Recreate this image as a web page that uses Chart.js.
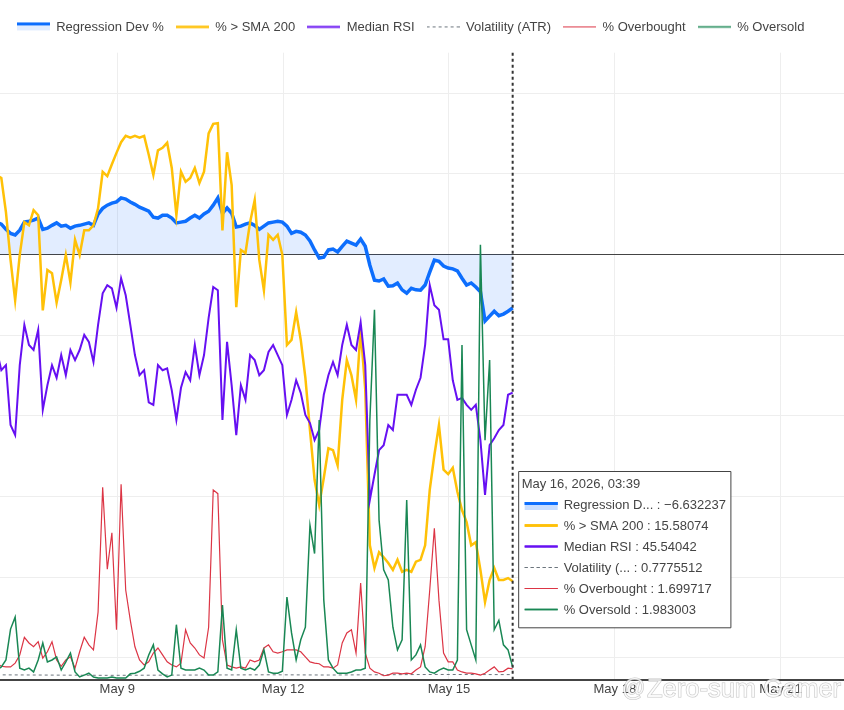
<!DOCTYPE html>
<html>
<head>
<meta charset="utf-8">
<script src="https://cdn.jsdelivr.net/npm/chart.js@4.4.1/dist/chart.umd.min.js"></script>
<style>
  html, body { margin: 0; padding: 0; background: #fff; }
</style>
</head>
<body>
<canvas id="chart" width="844" height="710"></canvas>
<script>
// 2-hourly samples, last one is May 16, 2026 03:39
const regDev = [
  4.0, 3.75, 3.1, 2.6, 2.4, 3.0, 4.0, 4.1, 4.25, 4.5, 3.1, 3.25,
  3.6, 3.9, 3.5, 3.6, 3.25, 3.5, 3.6, 3.75, 3.9, 3.6, 5.0, 5.7,
  6.1, 6.35, 6.5, 7.0, 6.85, 6.5, 6.2, 5.85, 5.6, 5.35, 4.6, 4.5,
  4.85, 4.85, 4.5, 3.9, 4.0, 4.1, 4.5, 4.85, 4.5, 5.0, 5.35, 6.1,
  7.0, 5.1, 5.75, 5.1, 3.4, 3.5, 3.75, 3.9, 3.6, 3.1, 3.5, 3.9,
  4.0, 4.1, 4.0, 3.5, 2.6, 2.85, 2.75, 2.4, 1.65, 0.55, -0.45, -0.35,
  0.55, 0.65, 0.3, 1.0, 1.65, 1.4, 1.15, 1.9, 1.0, -1.35, -3.2, -3.3,
  -3.05, -3.95, -3.9, -3.55, -4.4, -4.8, -4.2, -4.4, -4.45, -3.8, -2.2, -0.7,
  -0.85, -1.45, -1.7, -1.8, -2.05, -2.95, -3.8, -3.55, -4.05, -4.65, -8.25, -7.65,
  -7.05, -7.6, -7.4, -7.05, -6.632237
];
const aboveSma = [
  80.1, 79.6, 74.2, 66.6, 60.2, 67.4, 72.6, 72.1, 74.5, 73.7, 58.6, 65.0,
  64.5, 59.8, 63.4, 67.4, 63.0, 69.8, 67.4, 71.3, 71.3, 72.1, 74.8, 80.6,
  79.9, 81.8, 83.6, 85.3, 86.3, 86.0, 86.3, 86.0, 86.3, 83.3, 80.1, 84.0,
  84.4, 85.2, 81.2, 73.7, 80.6, 79.0, 79.6, 81.2, 78.8, 80.6, 86.7, 88.2,
  88.3, 71.3, 83.7, 78.5, 59.1, 68.2, 67.7, 72.6, 76.1, 66.6, 61.8, 70.6,
  69.8, 70.6, 67.4, 53.1, 53.9, 58.3, 53.9, 47.9, 39.6, 31.7, 27.7, 32.0,
  36.7, 36.4, 34.0, 44.4, 50.7, 48.3, 44.4, 55.5, 46.0, 21.3, 17.7, 20.2,
  19.4, 18.5, 17.4, 19.0, 17.1, 17.4, 17.1, 18.7, 19.0, 21.3, 30.1, 35.6,
  40.4, 33.3, 32.6, 33.6, 29.8, 26.9, 25.0, 21.3, 21.8, 17.4, 12.3, 15.8,
  17.7, 15.8, 15.8, 16.1, 15.58074
];
const medianRsi = [
  52.3, 49.1, 49.9, 40.4, 38.8, 49.9, 56.3, 53.1, 52.3, 55.5, 42.8, 46.7,
  49.9, 47.9, 51.5, 48.3, 52.3, 50.7, 52.3, 54.7, 53.6, 50.4, 56.3, 61.3,
  62.6, 62.1, 59.0, 63.7, 61.0, 56.3, 51.5, 48.3, 49.1, 44.0, 43.6, 49.9,
  49.1, 49.4, 45.9, 41.2, 46.3, 48.8, 47.5, 53.1, 48.3, 51.5, 57.4, 62.3,
  61.8, 41.2, 53.6, 46.7, 38.8, 46.7, 44.4, 51.5, 50.7, 48.3, 49.1, 52.0,
  53.1, 51.5, 49.9, 42.0, 44.4, 47.5, 45.5, 42.0, 40.7, 38.0, 39.6, 45.2,
  48.3, 50.4, 48.3, 53.1, 56.3, 53.1, 52.3, 56.7, 49.9, 28.5, 32.5, 36.4,
  37.2, 40.4, 39.6, 45.2, 45.2, 45.2, 43.6, 46.0, 47.9, 53.1, 62.6, 59.4,
  58.7, 54.0, 54.0, 47.5, 44.4, 44.7, 43.6, 42.8, 43.6, 38.0, 29.3, 37.2,
  38.3, 39.6, 40.4, 45.2, 45.54042
];
const overbought = [
  2.6, 2.1, 2.0, 2.0, 2.6, 3.9, 6.7, 5.8, 5.2, 6.0, 3.4, 4.4,
  6.0, 3.1, 2.1, 3.1, 3.6, 1.8, 4.4, 6.7, 5.5, 4.7, 10.7, 30.5,
  17.5, 23.3, 7.9, 31.0, 14.2, 9.4, 5.2, 3.1, 2.3, 2.8, 4.2, 5.0,
  3.9, 2.8, 2.3, 2.0, 2.6, 7.9, 5.8, 5.0, 3.9, 3.4, 8.3, 30.1,
  29.5, 6.3, 2.3, 2.0, 1.8, 2.0, 1.8, 3.1, 2.8, 3.1, 5.0, 5.5,
  4.4, 4.2, 4.4, 4.7, 4.7, 4.7, 4.4, 3.6, 2.8, 2.6, 2.5, 2.0,
  2.0, 1.8, 2.3, 5.8, 7.4, 7.9, 4.2, 15.3, 4.2, 1.8, 1.2, 1.0,
  0.6, 0.7, 1.0, 1.0, 0.9, 1.0, 0.9, 1.5, 2.0, 5.2, 14.2, 24.0,
  12.6, 4.2, 2.8, 2.8, 1.5, 1.2, 1.0, 1.0, 0.9, 0.7, 1.0, 1.5,
  2.0, 1.2, 1.3, 1.8, 1.699717
];
const oversold = [
  1.5, 2.0, 3.1, 8.0, 9.9, 1.8, 1.5, 1.8, 1.2, 3.1, 5.8, 2.8,
  3.1, 3.6, 1.5, 2.8, 4.2, 1.2, 0.4, 0.7, 1.0, 0.4, 0.24, 0.24,
  0.24, 0.4, 0.24, 0.24, 0.24, 0.9, 1.0, 1.3, 1.8, 3.9, 5.5, 1.5,
  0.9, 0.4, 0.7, 8.7, 1.8, 1.5, 1.5, 1.5, 1.8, 1.5, 0.7, 0.7,
  1.2, 11.8, 1.8, 1.5, 7.9, 1.8, 1.5, 1.8, 1.5, 2.3, 4.7, 1.2,
  1.0, 1.0, 1.3, 13.1, 7.4, 3.1, 6.3, 8.3, 24.5, 20.0, 41.2, 12.6,
  3.1, 1.8, 1.0, 1.0, 1.0, 1.2, 1.5, 1.5, 1.8, 41.2, 58.7, 25.3,
  17.4, 15.8, 8.3, 4.7, 6.3, 28.5, 3.1, 3.9, 5.5, 2.0, 1.2, 1.0,
  1.5, 1.8, 1.5, 1.5, 3.1, 53.1, 7.9, 5.5, 3.1, 69.0, 38.0, 50.7,
  7.9, 9.4, 5.5, 4.7, 1.983003
];
// volatility is nearly flat, sampled once a day
const volIndex = [0, 12, 24, 36, 48, 60, 72, 84, 96, 108, 112];
const volatility = [0.74, 0.70, 0.66, 0.69, 0.72, 0.75, 0.71, 0.76, 0.80, 0.78, 0.7775512];

const seriesNames = ['Regression Dev %', '% > SMA 200', 'Median RSI', 'Volatility (ATR)', '% Overbought', '% Oversold'];
const seriesColors = ['#0d6efd', '#ffc107', '#6610f2', '#6c757d', '#dc3545', '#198754'];
const tickDays = [9, 12, 15, 18, 21];
const tickLabels = ['May 9', 'May 12', 'May 15', 'May 18', 'May 21'];
const monthNames = ['Jan', 'Feb', 'Mar', 'Apr', 'May', 'Jun', 'Jul', 'Aug', 'Sep', 'Oct', 'Nov', 'Dec'];

// x values are day-of-May
const endDay = 16 + (3 * 60 + 39) / 1440;
const stepDays = 2 / 24;
const times = regDev.map((_, i) => endDay - (regDev.length - 1 - i) * stepDays);
const pts = arr => arr.map((v, i) => ({ x: times[i], y: v }));

const FONT = '"Liberation Sans", Arial, sans-serif';
Chart.defaults.font.family = FONT;
Chart.defaults.color = '#444';

// small line icons for legend and tooltip
function makeIcon(w, h, x0, x1, i, lineY, fillTop, fillBottom) {
  const c = document.createElement('canvas');
  c.width = w;
  c.height = h;
  const g = c.getContext('2d');
  const mid = h / 2;
  const widths = [3, 2.5, 2, 1, 1.2, 1.5];
  if (i === 0) {
    g.fillStyle = 'rgba(13,110,253,0.12)';
    g.fillRect(x0, mid + fillTop, x1 - x0, fillBottom - fillTop);
  }
  g.strokeStyle = seriesColors[i];
  g.lineWidth = widths[i];
  if (i === 3) g.setLineDash([3, 3]);
  g.beginPath();
  const y = i === 0 ? mid + lineY : mid - 0.5;
  g.moveTo(x0, y);
  g.lineTo(x1, y);
  g.stroke();
  return c;
}
const legendIcons = seriesNames.map((_, i) => makeIcon(33, 20, 0, 33, i, -3.5, -2, 3));
const tipIcons = seriesNames.map((_, i) => makeIcon(40, 20, 3, 36, i, -1.5, 0, 5));

const shortName = s => (s.length > 15 ? s.slice(0, 12) + '...' : s);
const fmtNum = v => v.toPrecision(7).replace('-', '\u2212');
const pad2 = n => String(n).padStart(2, '0');
function fmtStamp(day) {
  const d = Math.floor(day);
  const mins = Math.round((day - d) * 1440);
  return monthNames[4] + ' ' + d + ', 2026, ' + pad2(Math.floor(mins / 60)) + ':' + pad2(mins % 60);
}

Chart.Tooltip.positioners.lastPoint = function () {
  const c = this.chart;
  return { x: c.scales.x.getPixelForValue(endDay) + 6, y: c.chartArea.bottom - 208 };
};

// legend sits a bit further from the plot than chart.js puts it, and a bit left
const legendGap = {
  id: 'legendGap',
  afterInit(chart) {
    const fit = chart.legend.fit;
    chart.legend.fit = function () {
      fit.call(this);
      this.height += 8.8;
      if (this.lineWidths) this.lineWidths[0] += 23;
    };
  }
};

const spikeLine = {
  id: 'spikeLine',
  afterDatasetsDraw(chart) {
    const { ctx, chartArea, scales } = chart;
    const x = scales.x.getPixelForValue(endDay);
    ctx.save();
    ctx.strokeStyle = '#333';
    ctx.lineWidth = 2;
    ctx.setLineDash([3, 3]);
    ctx.beginPath();
    ctx.moveTo(x, chartArea.top);
    ctx.lineTo(x, chartArea.bottom);
    ctx.stroke();
    ctx.restore();
  }
};

const watermark = {
  id: 'watermark',
  afterDraw(chart) {
    const ctx = chart.ctx;
    ctx.save();
    ctx.textBaseline = 'alphabetic';
    ctx.fillStyle = 'rgba(255,255,255,0.8)';
    ctx.strokeStyle = 'rgba(150,150,150,0.55)';
    ctx.lineWidth = 1.1;
    ctx.font = '23px ' + FONT;
    ctx.strokeText('@', 622, 696);
    ctx.fillText('@', 622, 696);
    ctx.font = '25.5px ' + FONT;
    ctx.strokeText('Zero-sum Gamer', 647, 697);
    ctx.fillText('Zero-sum Gamer', 647, 697);
    ctx.restore();
  }
};

const widths = [3.5, 2.5, 2, 1, 1.2, 1.5];
const seriesData = [regDev, aboveSma, medianRsi, null, overbought, oversold];
const datasets = seriesNames.map((name, i) => ({
  label: name,
  data: i === 3
    ? volIndex.map((k, j) => ({ x: times[k], y: volatility[j] }))
    : pts(seriesData[i]),
  yAxisID: i === 0 ? 'y1' : 'y',
  borderColor: seriesColors[i],
  borderWidth: widths[i],
  borderDash: i === 3 ? [3, 3] : [],
  backgroundColor: i === 0 ? 'rgba(13,110,253,0.12)' : seriesColors[i],
  fill: i === 0 ? 'origin' : false,
  pointRadius: 0,
  pointHoverRadius: 0,
  tension: 0,
  order: 6 - i
}));

const chart = new Chart(document.getElementById('chart'), {
  type: 'line',
  data: { datasets },
  plugins: [legendGap, spikeLine, watermark],
  options: {
    responsive: false,
    animation: false,
    events: [],
    layout: { autoPadding: false, padding: { top: 8.9, bottom: 9.9, left: 0, right: 0 } },
    plugins: {
      legend: {
        position: 'top',
        labels: {
          usePointStyle: true,
          pointStyleWidth: 33,
          boxHeight: 13,
          padding: 12,
          color: '#444',
          font: { size: 13 },
          generateLabels: c => c.data.datasets.map((ds, i) => ({
            text: ds.label,
            pointStyle: legendIcons[i],
            datasetIndex: i,
            fontColor: '#444',
            fillStyle: 'transparent',
            strokeStyle: 'transparent',
            lineWidth: 0,
            hidden: false
          }))
        }
      },
      tooltip: {
        position: 'lastPoint',
        xAlign: 'left',
        yAlign: 'top',
        caretSize: 0,
        caretPadding: 0,
        cornerRadius: 0,
        backgroundColor: '#fff',
        borderColor: '#444',
        borderWidth: 1,
        titleColor: '#444',
        bodyColor: '#444',
        titleFont: { size: 13, weight: 'normal' },
        bodyFont: { size: 13 },
        titleMarginBottom: 5.1,
        bodySpacing: 5.4,
        padding: { top: 5, right: 5, bottom: 10, left: 3 },
        displayColors: true,
        usePointStyle: true,
        boxWidth: 40,
        boxHeight: 13,
        itemSort: (a, b) => a.datasetIndex - b.datasetIndex,
        callbacks: {
          title: () => fmtStamp(endDay),
          label: ctx => shortName(ctx.dataset.label) + ' : ' + fmtNum(ctx.parsed.y),
          labelPointStyle: ctx => ({ pointStyle: tipIcons[ctx.datasetIndex], rotation: 0 })
        }
      }
    },
    scales: {
      x: {
        type: 'linear',
        min: 6.878,
        max: 22.146,
        bounds: 'data',
        afterBuildTicks: axis => {
          axis.ticks = tickDays.map(v => ({ value: v }));
        },
        ticks: {
          autoSkip: false,
          maxRotation: 0,
          padding: 2.5,
          color: '#444',
          font: { size: 13 },
          callback: v => tickLabels[tickDays.indexOf(v)]
        },
        grid: { color: '#eeeeee', drawTicks: false },
        border: { display: true, color: '#444', width: 2 }
      },
      y: {
        display: false,
        min: 0,
        max: 99.5
      },
      y1: {
        position: 'left',
        min: -52.7,
        max: 25,
        ticks: { display: false, stepSize: 10 },
        grid: {
          drawTicks: false,
          color: ctx => {
            const v = ctx.tick ? ctx.tick.value : 1;
            if (v === 0) return '#444';
            return Math.abs(v % 10) < 1e-6 ? '#eeeeee' : 'rgba(0,0,0,0)';
          }
        },
        border: { display: false }
      }
    }
  }
});

chart.tooltip.setActiveElements(
  chart.data.datasets.map((ds, i) => ({ datasetIndex: i, index: ds.data.length - 1 })),
  { x: 0, y: 0 }
);
chart.update();
</script>
</body>
</html>
